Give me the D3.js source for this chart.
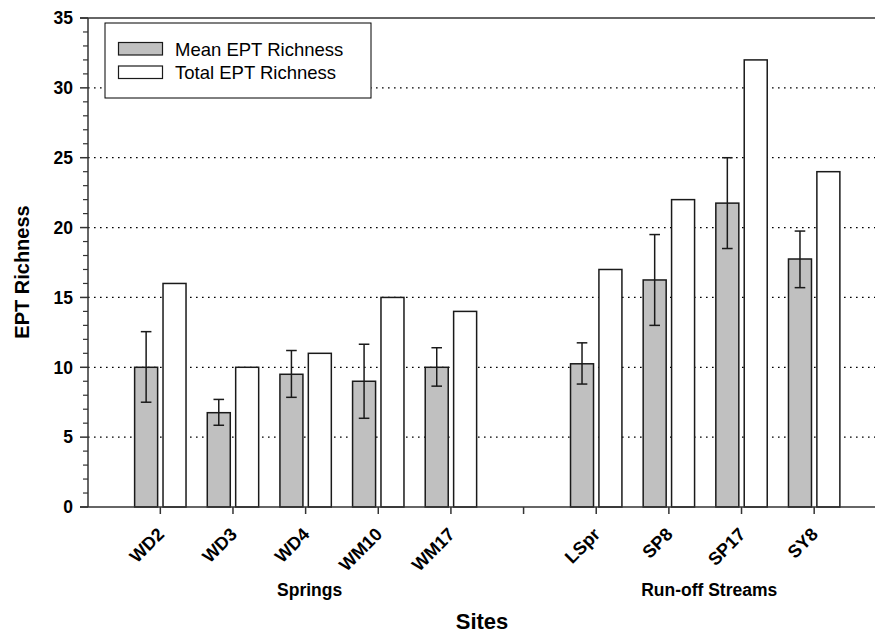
<!DOCTYPE html>
<html>
<head>
<meta charset="utf-8">
<script src="https://cdn.jsdelivr.net/npm/d3@7"></script>
<style>
  html, body { margin: 0; padding: 0; background: #fff; }
  svg { display: block; }
  text { font-family: "Liberation Sans", Arial, sans-serif; fill: #000; }
</style>
</head>
<body>
<svg id="chart" width="875" height="636"></svg>
<script>
// ---- data ----
const sites = ["WD2", "WD3", "WD4", "WM10", "WM17", "", "LSpr", "SP8", "SP17", "SY8"];
const meanRichness = [10.0, 6.75, 9.5, 9.0, 10.0, null, 10.25, 16.25, 21.75, 17.75];
const meanErrHigh  = [12.55, 7.7, 11.2, 11.65, 11.4, null, 11.75, 19.5, 25.0, 19.75];
const meanErrLow   = [7.5, 5.85, 7.85, 6.35, 8.65, null, 8.8, 13.0, 18.5, 15.7];
const totalRichness = [16, 10, 11, 15, 14, null, 17, 22, 32, 24];
const seriesNames = ["Mean EPT Richness", "Total EPT Richness"];
const seriesFill = ["#c0c0c0", "#ffffff"];
const yTicks = [0, 5, 10, 15, 20, 25, 30, 35];
const gridValues = [5, 10, 15, 20, 25, 30];
const groups = [
  { label: "Springs", first: "WD2", last: "WM17" },
  { label: "Run-off Streams", first: "LSpr", last: "SY8" }
];

// ---- layout ----
const plotLeft = 88, plotTop = 18, plotBottom = 507, plotRight = 880;
const svg = d3.select("#chart");

const y = d3.scaleLinear().domain([0, 35]).range([plotBottom, plotTop]);
const x = d3.scaleBand().domain(sites).range([124, 850.5]).padding(0);
const x1 = d3.scaleBand().domain(seriesNames)
  .range([-25.7, 25.7]).paddingInner(0.19);

const center = s => x(s) + x.bandwidth() / 2;

// gridlines (behind bars)
svg.append("g").selectAll("line").data(gridValues).join("line")
  .attr("x1", plotLeft).attr("x2", plotRight)
  .attr("y1", d => y(d)).attr("y2", d => y(d))
  .attr("stroke", "#000").attr("stroke-width", 1.3)
  .attr("stroke-dasharray", "1.6,4.4");

// data rows
const rows = sites.map((s, i) => ({
  site: s, mean: meanRichness[i], hi: meanErrHigh[i], lo: meanErrLow[i], total: totalRichness[i]
})).filter(d => d.mean !== null);

// bars
const barG = svg.append("g");
rows.forEach(d => {
  const vals = [d.mean, d.total];
  seriesNames.forEach((name, k) => {
    barG.append("rect")
      .attr("x", center(d.site) + x1(name))
      .attr("width", x1.bandwidth())
      .attr("y", y(vals[k]))
      .attr("height", y(0) - y(vals[k]))
      .attr("fill", seriesFill[k])
      .attr("stroke", "#1a1a1a").attr("stroke-width", 1.5);
  });
});

// error bars on mean
const errG = svg.append("g").attr("stroke", "#1a1a1a").attr("stroke-width", 1.5);
const capW = 5.3;
rows.forEach(d => {
  const cx = center(d.site) + x1(seriesNames[0]) + x1.bandwidth() / 2;
  errG.append("line").attr("x1", cx).attr("x2", cx).attr("y1", y(d.hi)).attr("y2", y(d.lo));
  errG.append("line").attr("x1", cx - capW).attr("x2", cx + capW).attr("y1", y(d.hi)).attr("y2", y(d.hi));
  errG.append("line").attr("x1", cx - capW).attr("x2", cx + capW).attr("y1", y(d.lo)).attr("y2", y(d.lo));
});

// top frame line
svg.append("line").attr("x1", plotLeft - 8).attr("x2", plotRight)
  .attr("y1", plotTop).attr("y2", plotTop).attr("stroke", "#333").attr("stroke-width", 1.5);

// y axis
const yAxisG = svg.append("g").attr("transform", `translate(${plotLeft},0)`);
yAxisG.append("line").attr("x1", 0).attr("x2", 0).attr("y1", plotTop).attr("y2", plotBottom)
  .attr("stroke", "#333").attr("stroke-width", 1.5);
yAxisG.selectAll("line.minor").data(d3.range(0, 36, 1).filter(v => v % 5 !== 0)).join("line")
  .attr("class", "minor").attr("x1", -5).attr("x2", 0)
  .attr("y1", d => y(d)).attr("y2", d => y(d)).attr("stroke", "#333").attr("stroke-width", 1.2);
yAxisG.selectAll("line.major").data(yTicks).join("line")
  .attr("class", "major").attr("x1", -8).attr("x2", 0)
  .attr("y1", d => y(d)).attr("y2", d => y(d)).attr("stroke", "#333").attr("stroke-width", 1.5);
yAxisG.selectAll("text").data(yTicks).join("text")
  .attr("x", -15).attr("y", d => y(d)).attr("dy", "0.36em")
  .attr("text-anchor", "end").style("font-size", "17.5px").style("font-weight", "bold")
  .text(d => d);

// x axis
const xAxisG = svg.append("g").attr("transform", `translate(0,${plotBottom})`);
xAxisG.append("line").attr("x1", plotLeft - 8).attr("x2", plotRight).attr("y1", 0).attr("y2", 0)
  .attr("stroke", "#333").attr("stroke-width", 1.5);
xAxisG.selectAll("line.tick").data(sites).join("line")
  .attr("class", "tick").attr("x1", d => center(d)).attr("x2", d => center(d))
  .attr("y1", 0).attr("y2", 7).attr("stroke", "#333").attr("stroke-width", 1.5);
xAxisG.selectAll("text").data(sites.filter(s => s !== "")).join("text")
  .attr("transform", d => `translate(${center(d) + 5},28.5) rotate(-45)`)
  .attr("text-anchor", "end").style("font-size", "18px").style("font-weight", "bold")
  .text(d => d);

// group labels
svg.append("g").selectAll("text").data(groups).join("text")
  .attr("x", g => (center(g.first) + center(g.last)) / 2 + 4)
  .attr("y", 596).attr("text-anchor", "middle")
  .style("font-size", "17.5px").style("font-weight", "bold")
  .text(g => g.label);

// axis titles
svg.append("text").attr("x", 482).attr("y", 629).attr("text-anchor", "middle")
  .style("font-size", "22px").style("font-weight", "bold").text("Sites");
svg.append("text").attr("transform", "translate(29,272) rotate(-90)")
  .attr("text-anchor", "middle").style("font-size", "20px").style("font-weight", "bold")
  .text("EPT Richness");

// legend
const lg = svg.append("g").attr("transform", "translate(105,23)");
lg.append("rect").attr("width", 266).attr("height", 75)
  .attr("fill", "#fff").attr("stroke", "#000").attr("stroke-width", 1);
seriesNames.forEach((name, k) => {
  lg.append("rect").attr("x", 13.5).attr("y", 19.5 + k * 23.5).attr("width", 44).attr("height", 12.5)
    .attr("fill", seriesFill[k]).attr("stroke", "#1a1a1a").attr("stroke-width", 1.2);
  lg.append("text").attr("x", 70).attr("y", 32.5 + k * 23.5)
    .style("font-size", "18.5px").text(name);
});
</script>
</body>
</html>
